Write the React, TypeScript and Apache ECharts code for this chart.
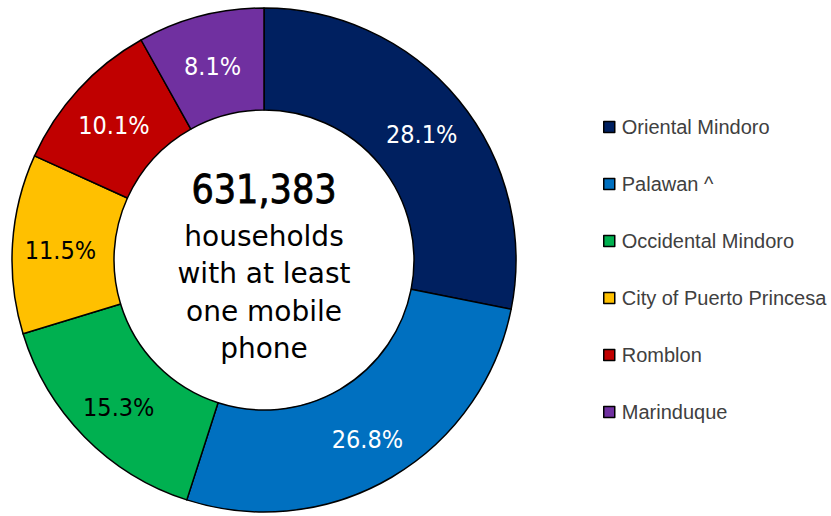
import React, { useEffect, useRef } from "react";
import * as echarts from "echarts";

const categories = [
  "Oriental Mindoro",
  "Palawan ^",
  "Occidental Mindoro",
  "City of Puerto Princesa",
  "Romblon",
  "Marinduque",
];
const values = [28.1, 26.8, 15.3, 11.5, 10.1, 8.1];
const colors = ["#002060", "#0070C0", "#00B050", "#FFC000", "#C00000", "#7030A0"];
const labelColors = ["#FFFFFF", "#FFFFFF", "#000000", "#000000", "#FFFFFF", "#FFFFFF"];
const centerTotal = "631,383";
const centerLines = ["households", "with at least", "one mobile", "phone"];

const LABEL_FONT = "'DejaVu Sans Condensed', 'DejaVu Sans', sans-serif";
const CENTER_FONT = "'DejaVu Sans', sans-serif";

export default function App() {
  const ref = useRef<HTMLDivElement>(null);
  useEffect(() => {
    if (!ref.current) return;
    const chart = echarts.init(ref.current, undefined, { renderer: "svg" });
    const cx = 264;
    const cy = 260;
    chart.setOption({
      animation: false,
      backgroundColor: "#FFFFFF",
      legend: {
        orient: "vertical",
        left: 603,
        top: 117,
        padding: 0,
        itemWidth: 11,
        itemHeight: 11,
        itemGap: 37,
        icon: "rect",
        itemStyle: { borderColor: "#000000", borderWidth: 1.5 },
        textStyle: {
          fontFamily: "'Liberation Sans', Arial, sans-serif",
          fontSize: 20,
          lineHeight: 20,
          color: "#404040",
          padding: [0, 0, 0, 2],
        },
        data: categories,
      },
      graphic: [
        {
          type: "text",
          x: cx,
          y: 189,
          style: {
            text: centerTotal,
            fontFamily: LABEL_FONT,
            fontSize: 39,
            fontWeight: "normal",
            fill: "#000000",
            stroke: "#000000",
            lineWidth: 0.8,
            align: "center",
            verticalAlign: "middle",
          },
        },
        ...centerLines.map((t, i) => ({
          type: "text",
          x: cx,
          y: 236 + i * 37.5,
          style: {
            text: t,
            fontFamily: CENTER_FONT,
            fontSize: 28,
            fill: "#000000",
            align: "center",
            verticalAlign: "middle",
          },
        })),
      ],
      series: [
        {
          type: "pie",
          center: [cx, cy],
          radius: [150, 252],
          startAngle: 90,
          clockwise: true,
          avoidLabelOverlap: false,
          itemStyle: { borderColor: "#000000", borderWidth: 1.5 },
          label: {
            show: true,
            position: "inside",
            fontFamily: LABEL_FONT,
            fontSize: 25,
            offset: [0, 4],
            formatter: (p: any) => p.value.toFixed(1) + "%",
          },
          labelLine: { show: false },
          emphasis: { disabled: true },
          data: categories.map((c, i) => ({
            name: c,
            value: values[i],
            itemStyle: { color: colors[i] },
            label: { color: labelColors[i] },
          })),
        },
      ],
    });
    return () => chart.dispose();
  }, []);
  return (
    <div
      ref={ref}
      style={{ position: "fixed", left: 0, top: 0, width: 831, height: 516 }}
    />
  );
}
